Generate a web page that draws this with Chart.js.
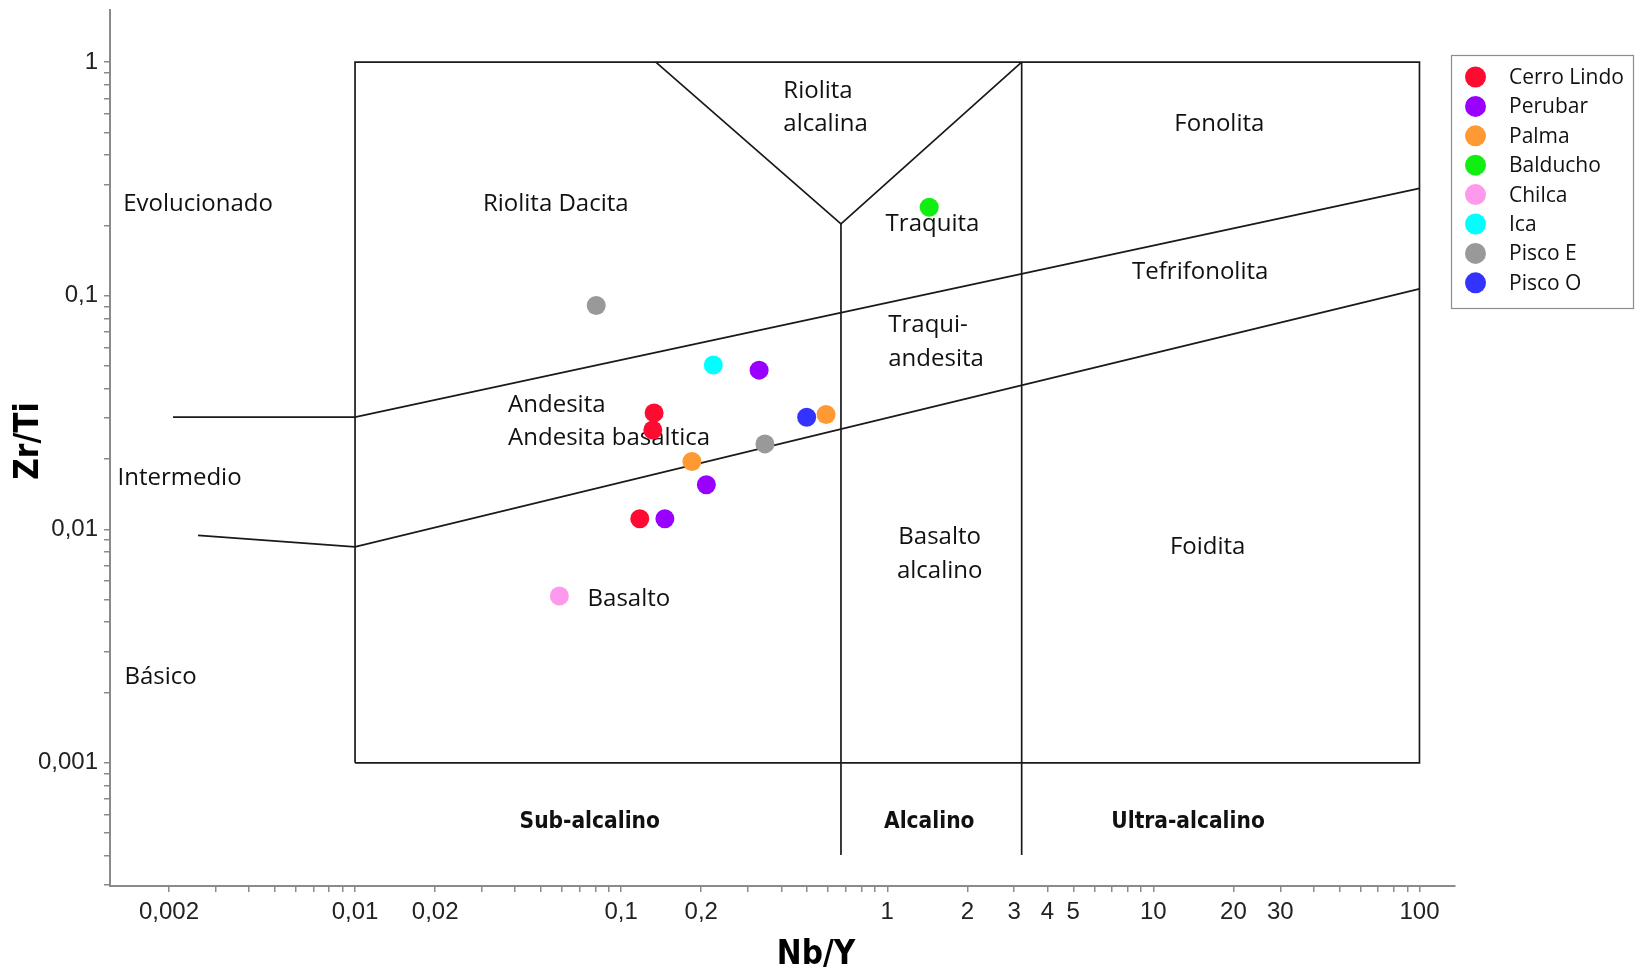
<!DOCTYPE html>
<html><head><meta charset="utf-8">
<script src="https://cdn.jsdelivr.net/npm/chart.js@4.4.0/dist/chart.umd.min.js"></script>
<style>html,body{margin:0;padding:0;background:#fff;}</style>
</head><body>
<canvas id="c" width="1641" height="977"></canvas>
<script>
// ---- sample data (Nb/Y, Zr/Ti) ----
const seriesNames  = ['Cerro Lindo','Perubar','Palma','Balducho','Chilca','Ica','Pisco E','Pisco O'];
const seriesColors = ['#ff0a30','#9900ff','#ff9933','#11ee11','#ff99ee','#00ffff','#999999','#3333ff'];
const cerroLindoX = [0.133, 0.1315, 0.1175];
const cerroLindoY = [0.0315, 0.0266, 0.0111];
const perubarX = [0.330, 0.209, 0.146];
const perubarY = [0.0480, 0.0155, 0.0111];
const palmaX = [0.589, 0.1845];
const palmaY = [0.0310, 0.0195];
const balduchoX = [1.438];
const balduchoY = [0.239];
const chilcaX = [0.0586];
const chilcaY = [0.00518];
const icaX = [0.222];
const icaY = [0.0505];
const piscoEX = [0.0806, 0.347];
const piscoEY = [0.0908, 0.0232];
const piscoOX = [0.498];
const piscoOY = [0.0302];

// ---- classification field boundaries (Nb/Y, Zr/Ti) ----
const boxX = [0.01, 0.01, 100, 100, 0.01];
const boxY = [0.001, 1, 1, 0.001, 0.001];
const vShapeX = [0.135, 0.67, 3.2];
const vShapeY = [1, 0.203, 1];
const alkLine1X = [0.67, 0.67];
const alkLine1Y = [0.203, 0.000403];
const alkLine2X = [3.2, 3.2];
const alkLine2Y = [1, 0.000403];
const upperX = [0.00207, 0.01, 100];
const upperY = [0.0302, 0.0302, 0.288];
const lowerX = [0.00257, 0.01, 100];
const lowerY = [0.00942, 0.00841, 0.107];

// ---- tick labels ----
const xTickLabels = [0.002, 0.01, 0.02, 0.1, 0.2, 1, 2, 3, 4, 5, 10, 20, 30, 100];
const yTickLabels = [0.001, 0.01, 0.1, 1];

// ---- field labels ----
const fieldText  = ['Evolucionado','Riolita Dacita','Riolita','alcalina','Fonolita','Traquita','Tefrifonolita','Traqui-','andesita','Andesita','Andesita basaltica','Intermedio','Basalto','alcalino','Foidita','Basalto','Básico'];
const fieldX     = [0.00257, 0.0568, 0.407, 0.407, 17.7, 1.479, 15.0, 1.009, 1.009, 0.0376, 0.0376, 0.00128, 1.574, 1.574, 16.0, 0.0748, 0.00136];
const fieldY     = [0.2465, 0.2465, 0.749, 0.545, 0.545, 0.2028, 0.126, 0.0746, 0.0537, 0.0341, 0.0246, 0.0165, 0.00923, 0.00663, 0.00841, 0.00503, 0.00232];
const fieldAlign = ['center','center','left','left','center','center','center','left','left','left','left','left','center','center','center','left','left'];
const seriesText = ['Sub-alcalino','Alcalino','Ultra-alcalino'];
const seriesTextX = [0.0762, 1.438, 13.5];
const seriesTextY = [0.000555, 0.000555, 0.000555];

const xTitle = 'Nb/Y';
const yTitle = 'Zr/Ti';

function pts(xs, ys){ return xs.map((x,i)=>({x:x, y:ys[i]})); }
const sampleX = [cerroLindoX, perubarX, palmaX, balduchoX, chilcaX, icaX, piscoEX, piscoOX];
const sampleY = [cerroLindoY, perubarY, palmaY, balduchoY, chilcaY, icaY, piscoEY, piscoOY];

const datasets = seriesNames.map((n,i)=>({
  label:n, data:pts(sampleX[i], sampleY[i]),
  backgroundColor:seriesColors[i], borderColor:seriesColors[i], borderWidth:0,
  pointRadius:9.5, pointHoverRadius:9.5, showLine:false
}));
const lineSets = [[boxX,boxY],[vShapeX,vShapeY],[alkLine1X,alkLine1Y],[alkLine2X,alkLine2Y],[upperX,upperY],[lowerX,lowerY]];
lineSets.forEach(([xs,ys])=>datasets.push({
  label:'', data:pts(xs,ys), showLine:true, borderColor:'#1a1a1a', borderWidth:1.7,
  pointRadius:0, fill:false, tension:0, isBoundary:true
}));

function logTicks(min, max){
  const out=[];
  for(let e=-5;e<=3;e++){
    for(let m=1;m<=9;m++){
      const v=parseFloat((m*Math.pow(10,e)).toPrecision(6));
      if(v>=min*0.9999 && v<=max*1.0001) out.push({value:v});
    }
  }
  return out;
}
function fmt(v, list){
  for(const t of list){ if(Math.abs(v-t)/t<1e-6) return String(t).replace('.', ','); }
  return '';
}

const X_MIN=0.00120, X_MAX=136, Y_MIN=0.000297, Y_MAX=1.68;

const drawPlugin = {
  id:'extras',
  beforeDatasetsDraw(chart){
    const ctx=chart.ctx, xs=chart.scales.x, ys=chart.scales.y;
    ctx.save();
    ctx.fillStyle='#111';
    ctx.font='24px "Open Sans", sans-serif';
    ctx.textBaseline='middle';
    fieldText.forEach((t,i)=>{
      ctx.textAlign=fieldAlign[i];
      ctx.fillText(t, xs.getPixelForValue(fieldX[i]), ys.getPixelForValue(fieldY[i]));
    });
    ctx.font='bold 22.5px "Liberation Sans Narrow", "Arial Narrow", "DejaVu Sans Condensed", sans-serif';
    ctx.textAlign='center';
    seriesText.forEach((t,i)=>{
      ctx.fillText(t, xs.getPixelForValue(seriesTextX[i]), ys.getPixelForValue(seriesTextY[i]));
    });
    ctx.restore();
  },
  afterDraw(chart){
    const ctx=chart.ctx;
    ctx.save();
    // axis titles
    ctx.fillStyle='#000';
    ctx.font='bold 33px "Liberation Sans Narrow", "Arial Narrow", "DejaVu Sans Condensed", sans-serif';
    ctx.textAlign='center'; ctx.textBaseline='middle';
    ctx.fillText(xTitle, 816, 955);
    ctx.translate(29, 441); ctx.rotate(-Math.PI/2);
    ctx.fillText(yTitle, 0, 0);
    ctx.restore();
    // legend
    ctx.save();
    const lx=1451, ly=55, lw=182, lh=253;
    ctx.strokeStyle='#8c8c8c'; ctx.lineWidth=1.2;
    ctx.strokeRect(lx+0.5, ly+0.5, lw, lh);
    ctx.font='21px "Open Sans", sans-serif';
    ctx.textAlign='left'; ctx.textBaseline='middle';
    chart.data.datasets.forEach((d,i)=>{
      if(d.isBoundary) return;
      const cy = 77 + i*29.4;
      ctx.fillStyle=d.backgroundColor;
      ctx.beginPath(); ctx.arc(1475.5, cy, 10.5, 0, Math.PI*2); ctx.fill();
      ctx.fillStyle='#111';
      ctx.fillText(d.label, 1509, cy+1);
    });
    ctx.restore();
  }
};

new Chart(document.getElementById('c'), {
  type:'scatter',
  data:{datasets},
  options:{
    responsive:false, animation:false, devicePixelRatio:1,
    layout:{padding:{left:0, right:186, top:7, bottom:0}},
    plugins:{legend:{display:false}, tooltip:{enabled:false}},
    scales:{
      x:{
        type:'logarithmic', min:X_MIN, max:X_MAX,
        afterBuildTicks(s){ s.ticks = logTicks(X_MIN, X_MAX); },
        afterFit(s){ s.height = 91; s.paddingLeft = 0; s.paddingRight = 0; },
        grid:{drawOnChartArea:false, drawTicks:true, tickLength:6, color:'#8a8a8a', lineWidth:1.5},
        border:{display:true, color:'#8a8a8a', width:2},
        ticks:{autoSkip:false, maxRotation:0, minRotation:0, padding:6, color:'#222',
          font:{family:'"Liberation Sans Narrow", "Arial Narrow", sans-serif', size:24},
          callback(v){ return fmt(v, xTickLabels); }}
      },
      y:{
        type:'logarithmic', min:Y_MIN, max:Y_MAX,
        afterBuildTicks(s){ s.ticks = logTicks(Y_MIN, Y_MAX); },
        afterFit(s){ s.width = 110; s.paddingTop = 0; s.paddingBottom = 0; },
        grid:{drawOnChartArea:false, drawTicks:true, tickLength:6, color:'#8a8a8a', lineWidth:1.5},
        border:{display:true, color:'#8a8a8a', width:2},
        ticks:{autoSkip:false, padding:6, color:'#222',
          font:{family:'"Liberation Sans Narrow", "Arial Narrow", sans-serif', size:24},
          callback(v){ return fmt(v, yTickLabels); }}
      }
    }
  },
  plugins:[drawPlugin]
});
</script>
</body></html>
